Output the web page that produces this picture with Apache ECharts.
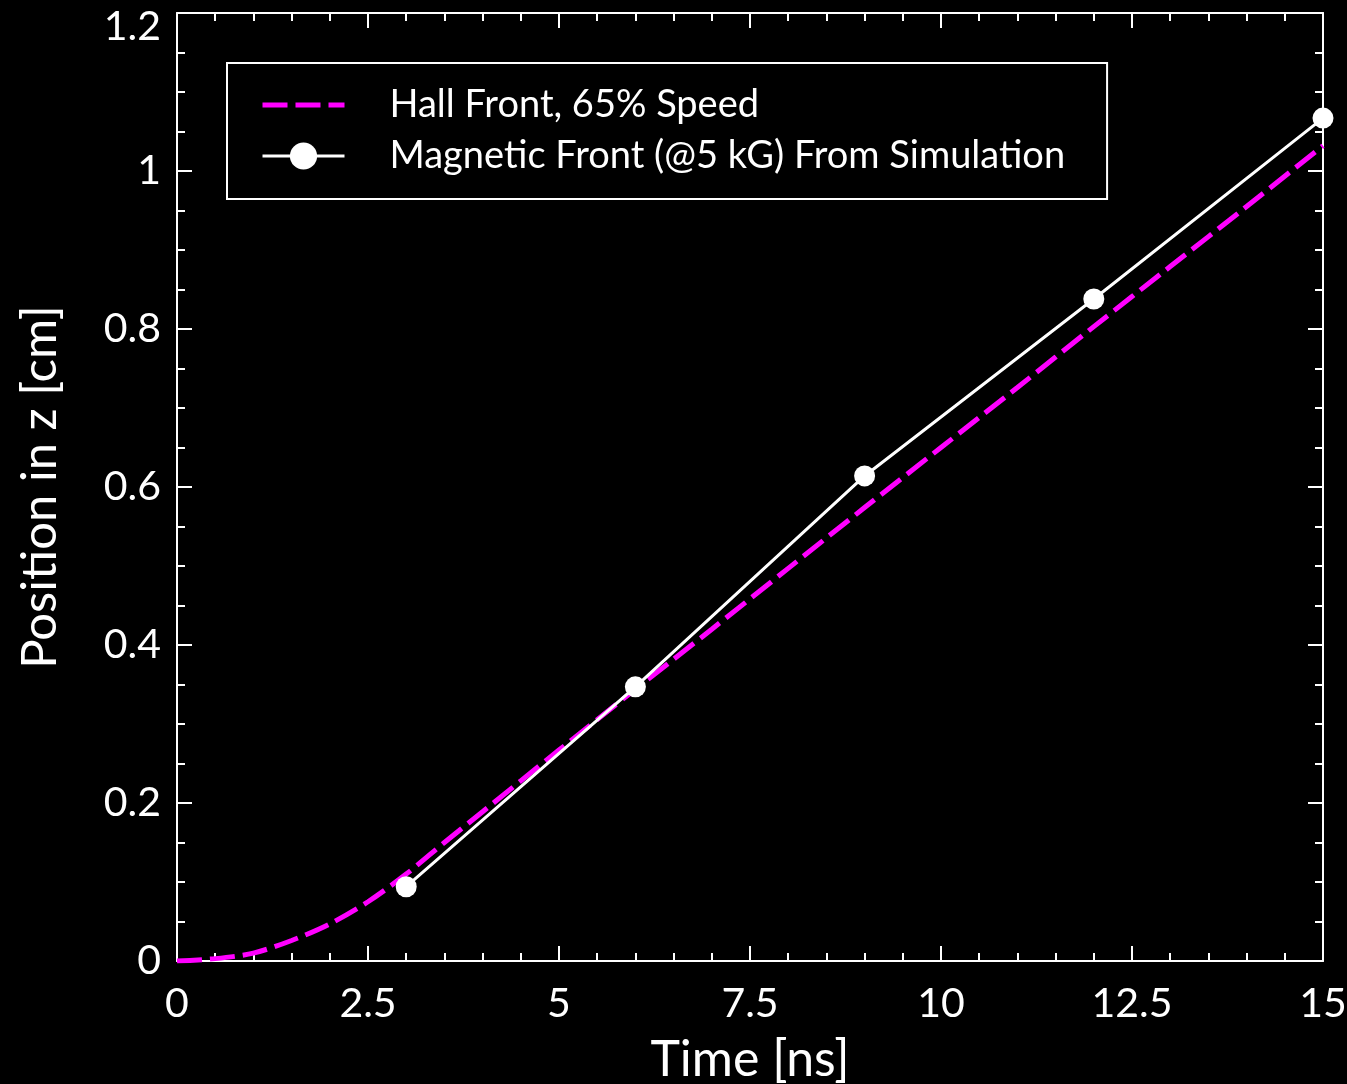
<!DOCTYPE html>
<html>
<head>
<meta charset="utf-8">
<script src="https://cdn.jsdelivr.net/npm/echarts@6/dist/echarts.min.js"></script>
<style>
  html, body { margin: 0; padding: 0; background: #000; }
  #chart { width: 1347px; height: 1084px; }
</style>
</head>
<body>
<div id="chart"></div>
<script>
// Hall front (65% speed) curve
const hallTime = [0, 0.5, 1, 1.5, 2, 2.5, 3, 3.5, 4, 5, 6, 7, 8, 9, 10, 11, 12, 13, 14, 15];
const hallPos = [0, 0.003, 0.010, 0.026, 0.047, 0.075, 0.110, 0.150, 0.189, 0.267, 0.344, 0.420, 0.497, 0.574, 0.650, 0.726, 0.803, 0.879, 0.955, 1.032];

// magnetic front (@5 kG) from simulation
const simTime = [3, 6, 9, 12, 15];
const simPos = [0.094, 0.347, 0.614, 0.838, 1.067];

const seriesNames = ['Hall Front, 65% Speed', 'Magnetic Front (@5 kG) From Simulation'];

const FONT = 'Lato, "Noto Sans", sans-serif';
const WHITE = '#ffffff';

const chart = echarts.init(document.getElementById('chart'));

// shared look of the frame axes
function frameAxis(extra) {
  return Object.assign({
    type: 'value',
    axisLine: { show: true, onZero: false, lineStyle: { color: WHITE, width: 2 } },
    axisTick: { show: true, inside: true, length: 15, lineStyle: { color: WHITE, width: 2 } },
    splitLine: { show: false },
    minorSplitLine: { show: false }
  }, extra);
}

const option = {
  backgroundColor: '#000',
  animation: false,
  grid: { left: 177, right: 24, top: 13, bottom: 123, containLabel: false, outerBoundsMode: 'none' },
  legend: {
    orient: 'vertical',
    left: 227,
    top: 63,
    padding: [22, 42, 23, 33],
    borderColor: WHITE,
    borderWidth: 2,
    itemWidth: 82,
    itemHeight: 34,
    itemGap: 11,
    lineStyle: { width: 'inherit', type: 'inherit' },
    data: [
      { name: seriesNames[0], itemStyle: { opacity: 0 } },
      { name: seriesNames[1] }
    ],
    textStyle: { color: WHITE, fontFamily: FONT, fontSize: 38, lineHeight: 40, padding: [0, 0, 0, 40] }
  },
  xAxis: [
    frameAxis({
      position: 'bottom',
      min: 0, max: 15, interval: 2.5,
      minorTick: { show: true, splitNumber: 5, length: 8, lineStyle: { color: WHITE, width: 2 } },
      name: 'Time [ns]',
      nameLocation: 'middle',
      nameGap: 74,
      nameTextStyle: { color: WHITE, fontFamily: FONT, fontSize: 50 },
      axisLabel: { color: WHITE, fontFamily: FONT, fontSize: 41, margin: 22 }
    }),
    frameAxis({
      position: 'top',
      min: 0, max: 15, interval: 2.5,
      minorTick: { show: true, splitNumber: 5, length: 8, lineStyle: { color: WHITE, width: 2 } },
      axisLabel: { show: false }
    })
  ],
  yAxis: [
    frameAxis({
      position: 'left',
      min: 0, max: 1.2, interval: 0.2,
      minorTick: { show: true, splitNumber: 4, length: 8, lineStyle: { color: WHITE, width: 2 } },
      name: 'Position in z [cm]',
      nameLocation: 'middle',
      nameGap: 112,
      nameTextStyle: { color: WHITE, fontFamily: FONT, fontSize: 49 },
      axisLabel: {
        color: WHITE, fontFamily: FONT, fontSize: 41, margin: 16,
        // top label sits a little lower, like in the original
        formatter: v => v >= 1.2 ? '{top|1.2}' : String(Math.round(v * 10) / 10),
        rich: {
          top: { color: WHITE, fontFamily: FONT, fontSize: 41, padding: [28, 0, 0, 0] }
        }
      }
    }),
    frameAxis({
      position: 'right',
      min: 0, max: 1.2, interval: 0.2,
      minorTick: { show: true, splitNumber: 4, length: 8, lineStyle: { color: WHITE, width: 2 } },
      axisLabel: { show: false }
    })
  ],
  series: [
    {
      name: seriesNames[0],
      type: 'line',
      xAxisIndex: 0,
      yAxisIndex: 0,
      smooth: 0.3,
      symbol: 'none',
      data: hallTime.map((t, i) => [t, hallPos[i]]),
      lineStyle: { color: '#ff00ff', width: 5, type: [25, 8] },
      itemStyle: { color: '#ff00ff' },
      z: 2
    },
    {
      name: seriesNames[1],
      type: 'line',
      xAxisIndex: 0,
      yAxisIndex: 0,
      symbol: 'circle',
      symbolSize: 21,
      showAllSymbol: true,
      data: simTime.map((t, i) => [t, simPos[i]]),
      lineStyle: { color: WHITE, width: 3 },
      itemStyle: { color: WHITE, borderWidth: 0 },
      z: 3
    }
  ]
};

chart.setOption(option);
</script>
</body>
</html>
